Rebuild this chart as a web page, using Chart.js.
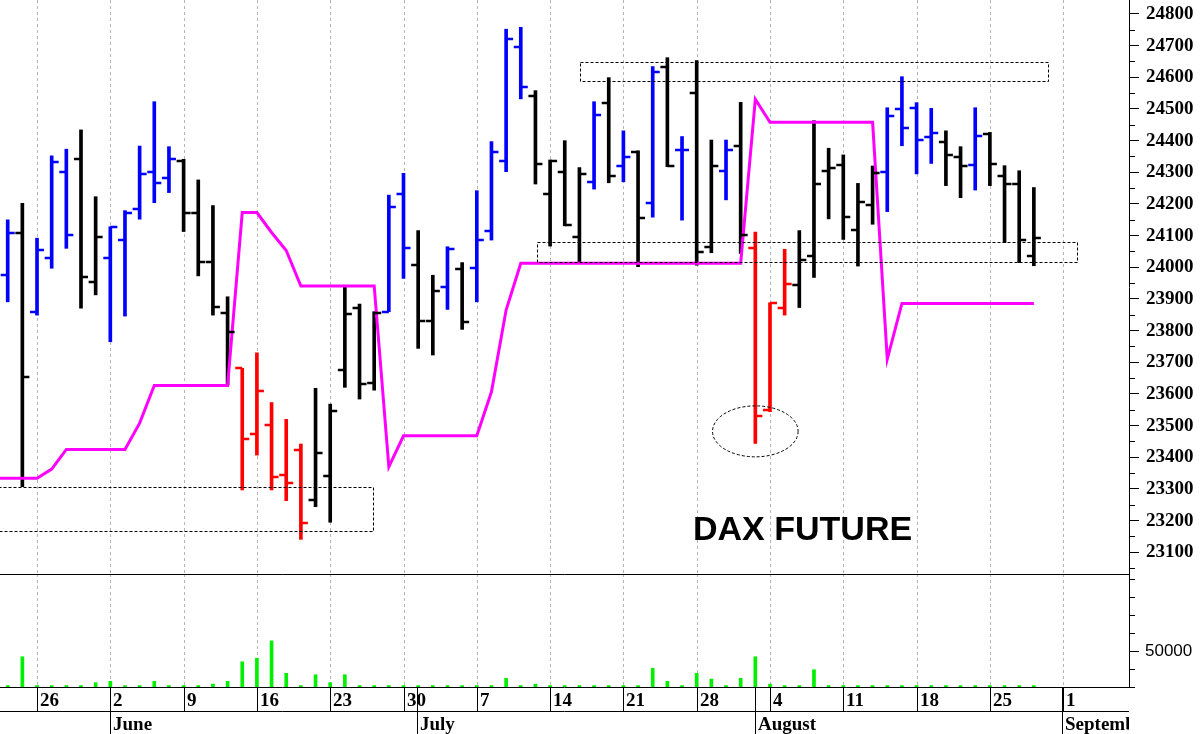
<!DOCTYPE html>
<html>
<head>
<meta charset="utf-8">
<script src="https://cdn.jsdelivr.net/npm/chart.js@4.4.0/dist/chart.umd.min.js"></script>
<style>
  html, body { margin: 0; padding: 0; background: #fff; }
  #wrap { position: relative; width: 1200px; height: 734px; overflow: hidden; }
  #price { position: absolute; left: 0; top: 0; }
  #volume { position: absolute; left: 0; top: 574px; }
</style>
</head>
<body>
<div id="wrap">
  <canvas id="price" width="1200" height="574"></canvas>
  <canvas id="volume" width="1200" height="160"></canvas>
</div>
<script>
// daily bars, 22 May -> 28 Aug (index 0..70)
const opens = [23976, 24107, 23860, 24028, 24302, 24342, 23955, 24028, 24086, 24184,
  24302, 24283, 24337, 24171, 24018, 23855, 23681, 23474, 23502, 23344,
  23423, 23265, 23341, 23676, 23871, 23635, 23860, 24231, 24007, 23831,
  23939, 23996, 23999, 24115, 24337, 24697, 24542, 24231, 24302, 24097,
  24270, 24520, 24321, 24365, 24202, 24632, 24371, 24551, 24065, 24305,
  24383, 24060, 23549, 23873, 23944, 24036, 24305, 24323, 24118, 24197,
  24300, 24500, 24502, 24411, 24397, 24349, 24323, 24420, 24288, 24262,
  24036];
const highs = [24150, 24202, 24092, 24352, 24373, 24434, 24223, 24128, 24179, 24383,
  24523, 24381, 24341, 24276, 24195, 23907, 23681, 23730, 23573, 23520,
  23442, 23618, 23568, 23937, 23884, 23860, 24228, 24297, 24116, 23975,
  24065, 24015, 24242, 24397, 24752, 24758, 24558, 24339, 24400, 24315,
  24523, 24599, 24431, 24368, 24634, 24662, 24413, 24653, 24402, 24402,
  24521, 24111, 23888, 24057, 24116, 24463, 24376, 24355, 24265, 24320,
  24504, 24602, 24520, 24502, 24431, 24381, 24504, 24426, 24321, 24305,
  24252];
const lows = [23891, 23307, 23849, 23997, 24060, 23871, 23913, 23765, 23846, 24152,
  24204, 24236, 24113, 23973, 23849, 23628, 23297, 23407, 23297, 23263,
  23141, 23244, 23195, 23621, 23584, 23612, 23860, 23965, 23744, 23723,
  23867, 23804, 23891, 24086, 24302, 24532, 24263, 24067, 24131, 24018,
  24247, 24267, 24270, 24002, 24158, 24318, 24149, 24007, 24046, 24213,
  24044, 23444, 23544, 23849, 23873, 23968, 24153, 24088, 24004, 24136,
  24176, 24384, 24295, 24328, 24258, 24220, 24244, 24258, 24078, 24015,
  24005];
const closes = [24108, 23655, 24055, 24334, 24102, 23970, 24095, 24128, 24171, 24294,
  24265, 24343, 24171, 24018, 23874, 23797, 23457, 23610, 23339, 23318,
  23194, 23415, 23546, 23853, 23632, 23855, 24191, 24062, 23831, 23926,
  24057, 23828, 24086, 24365, 24721, 24569, 24325, 24336, 24134, 24294,
  24481, 24289, 24349, 24157, 24618, 24321, 24371, 24049, 24321, 24371,
  24102, 23530, 23886, 23946, 24023, 24263, 24313, 24158, 24207, 24297,
  24479, 24439, 24402, 24423, 24355, 24321, 24415, 24325, 24262, 24086,
  24094];
// b = blue, k = black, r = red
const barTone = ['b','k','b','b','b','k','k','b','b','b',
  'b','b','k','k','k','k','r','r','r','r',
  'r','k','k','k','k','k','b','b','k','k',
  'b','k','b','b','b','b','k','k','k','k',
  'b','k','b','k','b','k','b','k','k','b',
  'k','r','r','r','k','k','k','k','k','k',
  'b','b','b','b','k','k','b','k','k','k',
  'k'];
// magenta stop line, from the bar before the first one
const stopLine = [23334, 23334, 23334, 23334, 23363, 23425, 23425, 23425, 23425, 23425, 23508,
  23627, 23627, 23627, 23627, 23627, 23627, 24173, 24173, 24110, 24053,
  23941, 23941, 23941, 23941, 23941, 23941, 23370, 23468, 23468, 23468,
  23468, 23468, 23468, 23607, 23865, 24013, 24013, 24013, 24013, 24013,
  24013, 24013, 24013, 24013, 24013, 24013, 24013, 24013, 24013, 24013,
  24013, 24531, 24458, 24458, 24458, 24458, 24458, 24458, 24458, 24458,
  23710, 23886, 23886, 23886, 23886, 23886, 23886, 23886, 23886, 23886,
  23886];
const volumes = [2000, 42000, 2000, 2000, 2000, 2000, 6000, 8000, 2000, 2000,
  8000, 2000, 2000, 2000, 4000, 8000, 35000, 40000, 64000, 19000,
  2000, 17000, 6000, 17000, 2000, 2000, 2000, 2000, 2000, 2000,
  2000, 2000, 2000, 2000, 12000, 2000, 4000, 2000, 2000, 2000,
  2000, 2000, 2000, 2000, 26000, 8000, 2000, 19000, 11000, 2000,
  12000, 42000, 4000, 2000, 2000, 24000, 2000, 2000, 2000, 2000,
  2000, 2000, 2000, 2000, 2000, 2000, 2000, 2000, 2000, 2000,
  2000];
const weekIdx = [2, 7, 12, 17, 22, 27, 32, 37, 42, 47, 52, 57, 62, 67, 72];
const weekLabels = ['26', '2', '9', '16', '23', '30', '7', '14', '21', '28', '4', '11', '18', '25', '1'];
const monthIdx = [7, 28, 51, 72];
const monthLabels = ['June', 'July', 'August', 'September'];
const priceTicks = [23100, 23200, 23300, 23400, 23500, 23600, 23700, 23800, 23900,
  24000, 24100, 24200, 24300, 24400, 24500, 24600, 24700, 24800];
const volumeTicks = [50000];

// dashed boxes (bar index / price) and the circled low
const zones = [
  { x0: -2, x1: 24.94, y0: 23168, y1: 23307 },
  { x0: 39.04, x1: 70.98, y0: 24588, y1: 24647 },
  { x0: 36.08, x1: 72.92, y0: 24016, y1: 24079 }
];
const ring = { x: 51.0, y: 23482, rx: 2.92, ry: 80.5 };

const X_MIN = -0.525, X_MAX = 76.49;
const TONE = { b: '#0000ff', k: '#000000', r: '#ff0000' };
const serifBold = 'bold 19px "Liberation Serif", "Times New Roman", serif';

function fitRightAxis(s) {
  s.width = 71;
  s.paddingTop = 0;
  s.paddingBottom = 0;
}

function drawWeekGrid(chart) {
  const { ctx, chartArea: a, scales: { x } } = chart;
  ctx.save();
  ctx.strokeStyle = '#b4b4b4';
  ctx.lineWidth = 1;
  ctx.setLineDash([3, 3]);
  weekIdx.forEach(function (i) {
    const px = Math.round(x.getPixelForValue(i)) + 0.5;
    ctx.beginPath();
    ctx.moveTo(px, a.top);
    ctx.lineTo(px, a.bottom);
    ctx.stroke();
  });
  ctx.restore();
}

const priceDecor = {
  id: 'priceDecor',
  beforeDatasetsDraw(chart) {
    drawWeekGrid(chart);
  },
  afterDatasetsDraw(chart) {
    const { ctx, chartArea: a, scales: { x, y } } = chart;
    // open / close ticks
    ctx.save();
    ctx.lineWidth = 2.5;
    opens.forEach(function (o, i) {
      const px = x.getPixelForValue(i);
      ctx.strokeStyle = TONE[barTone[i]];
      const yo = Math.round(y.getPixelForValue(o));
      const yc = Math.round(y.getPixelForValue(closes[i]));
      ctx.beginPath();
      ctx.moveTo(px - 7, yo); ctx.lineTo(px, yo);
      ctx.moveTo(px, yc); ctx.lineTo(px + 7, yc);
      ctx.stroke();
    });
    ctx.restore();

    // minor ticks on the price axis
    ctx.save();
    ctx.strokeStyle = '#000';
    ctx.lineWidth = 1;
    for (let v = 23050; v <= 24800; v += 100) {
      const py = Math.round(y.getPixelForValue(v)) + 0.5;
      ctx.beginPath();
      ctx.moveTo(a.right, py);
      ctx.lineTo(a.right + 6, py);
      ctx.stroke();
    }
    ctx.restore();

    // dashed boxes and ellipse
    ctx.save();
    ctx.beginPath();
    ctx.rect(a.left, a.top, a.right - a.left, a.bottom - a.top);
    ctx.clip();
    ctx.strokeStyle = '#000';
    ctx.lineWidth = 1;
    ctx.setLineDash([3, 2]);
    zones.forEach(function (z) {
      const l = Math.round(x.getPixelForValue(z.x0)) + 0.5;
      const r = Math.round(x.getPixelForValue(z.x1)) + 0.5;
      const t = Math.round(y.getPixelForValue(z.y1)) + 0.5;
      const b = Math.round(y.getPixelForValue(z.y0)) + 0.5;
      ctx.strokeRect(l, t, r - l, b - t);
    });
    const cx = x.getPixelForValue(ring.x);
    const cy = y.getPixelForValue(ring.y);
    const rx = x.getPixelForValue(ring.x + ring.rx) - cx;
    const ry = cy - y.getPixelForValue(ring.y + ring.ry);
    ctx.beginPath();
    ctx.ellipse(cx, cy, rx, ry, 0, 0, Math.PI * 2);
    ctx.stroke();
    ctx.restore();

    // title
    ctx.save();
    ctx.fillStyle = '#000';
    ctx.font = 'bold 34px "Liberation Sans", Arial, sans-serif';
    ctx.textBaseline = 'alphabetic';
    ctx.fillText('DAX FUTURE', 693, 540);
    ctx.restore();
  }
};

const volumeDecor = {
  id: 'volumeDecor',
  beforeDatasetsDraw(chart) {
    drawWeekGrid(chart);
  },
  afterDraw(chart) {
    const { ctx, chartArea: a, scales: { x, y } } = chart;
    const dayBottom = a.bottom + 24;
    const h = chart.height;
    ctx.save();
    ctx.strokeStyle = '#000';
    ctx.lineWidth = 1;
    ctx.beginPath();
    ctx.moveTo(0, a.top + 0.5); ctx.lineTo(a.right, a.top + 0.5);
    ctx.moveTo(0, a.bottom + 0.5); ctx.lineTo(a.right, a.bottom + 0.5);
    ctx.moveTo(0, dayBottom + 0.5); ctx.lineTo(a.right, dayBottom + 0.5);
    weekIdx.forEach(function (i) {
      const px = Math.round(x.getPixelForValue(i)) + 0.5;
      ctx.moveTo(px, a.bottom); ctx.lineTo(px, dayBottom);
    });
    monthIdx.forEach(function (i) {
      const px = Math.round(x.getPixelForValue(i - 0.05)) + 0.5;
      ctx.moveTo(px, a.bottom); ctx.lineTo(px, h);
    });
    // minor ticks on the volume axis
    [0, 25000, 75000, 100000, 125000, 150000].forEach(function (v) {
      const py = Math.round(y.getPixelForValue(v)) + 0.5;
      ctx.moveTo(a.right, py); ctx.lineTo(a.right + 6, py);
    });
    ctx.stroke();

    ctx.fillStyle = '#000';
    ctx.font = serifBold;
    ctx.textBaseline = 'alphabetic';
    weekIdx.forEach(function (i, k) {
      ctx.fillText(weekLabels[k], Math.round(x.getPixelForValue(i)) + 3, a.bottom + 19);
    });
    ctx.beginPath();
    ctx.rect(0, dayBottom, a.right, h - dayBottom);
    ctx.clip();
    monthIdx.forEach(function (i, k) {
      ctx.fillText(monthLabels[k], Math.round(x.getPixelForValue(i - 0.05)) + 3, h - 4);
    });
    ctx.restore();
  }
};

new Chart(document.getElementById('price'), {
  type: 'bar',
  data: {
    datasets: [
      {
        type: 'line',
        label: 'Stop',
        data: stopLine.map((v, i) => ({ x: i - 1, y: v })),
        borderColor: '#ff00ff',
        borderWidth: 3,
        pointRadius: 0,
        tension: 0,
        order: 0
      },
      {
        type: 'bar',
        label: 'Range',
        data: highs.map((hv, i) => ({ x: i, y: [lows[i], hv] })),
        backgroundColor: barTone.map(t => TONE[t]),
        barThickness: 3,
        borderWidth: 0,
        order: 1
      }
    ]
  },
  options: {
    responsive: false,
    animation: false,
    layout: { padding: 0 },
    plugins: { legend: { display: false }, tooltip: { enabled: false } },
    scales: {
      x: { type: 'linear', display: false, min: X_MIN, max: X_MAX, offset: false },
      y: {
        position: 'right',
        min: 23031.5,
        max: 24844.2,
        afterFit: fitRightAxis,
        afterBuildTicks: function (s) { s.ticks = priceTicks.map(v => ({ value: v })); },
        ticks: {
          autoSkip: false,
          color: '#000',
          padding: 7,
          font: { family: '"Liberation Serif", "Times New Roman", serif', size: 19, weight: 'bold' },
          callback: v => String(v)
        },
        grid: { drawOnChartArea: false, tickLength: 10, color: '#000' },
        border: { display: true, color: '#000' }
      }
    }
  },
  plugins: [priceDecor]
});

new Chart(document.getElementById('volume'), {
  type: 'bar',
  data: {
    datasets: [{
      label: 'Volume',
      data: volumes.map((v, i) => ({ x: i, y: v })),
      backgroundColor: '#00f000',
      barThickness: 3,
      borderWidth: 0
    }]
  },
  options: {
    responsive: false,
    animation: false,
    layout: { padding: { bottom: 47 } },
    plugins: { legend: { display: false }, tooltip: { enabled: false } },
    scales: {
      x: { type: 'linear', display: false, min: X_MIN, max: X_MAX, offset: false },
      y: {
        position: 'right',
        min: 0,
        max: 157000,
        afterFit: fitRightAxis,
        afterBuildTicks: function (s) { s.ticks = volumeTicks.map(v => ({ value: v })); },
        ticks: {
          autoSkip: false,
          color: '#000',
          padding: 6,
          font: { family: '"Liberation Sans", Arial, sans-serif', size: 17 },
          callback: v => String(v)
        },
        grid: { drawOnChartArea: false, tickLength: 10, color: '#000' },
        border: { display: true, color: '#000' }
      }
    }
  },
  plugins: [volumeDecor]
});
</script>
</body>
</html>
